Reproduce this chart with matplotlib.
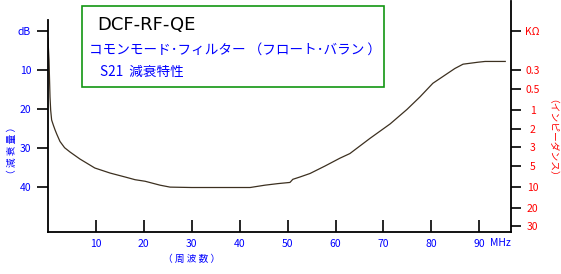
import matplotlib
matplotlib.use("Agg")
import matplotlib.pyplot as plt
from matplotlib.patches import Rectangle

plt.rcParams["font.family"] = ["Noto Sans CJK JP", "DejaVu Sans"]

# S21 attenuation curve (MHz, dB)
freq = [0.02, 0.25, 0.46, 0.6, 0.8, 1.15, 1.5, 1.86, 2.54, 3.5, 4.63, 6.7,
        9.8, 13.0, 16.1, 18.2, 20.3, 23.4, 25.5, 30, 35, 40, 42.2, 45.3, 48,
        50.5, 51.1, 52.6, 54.7, 57.8, 60.9, 63.0, 67.2, 71.4, 74.9, 77.6,
        80.3, 83.2, 84.9, 86.6, 89.7, 91.2, 95.4]
atten = [1.8, 7.4, 16.9, 20.3, 22.8, 24.1, 25.3, 26.4, 28.3, 29.9, 31.0, 32.8,
         35.1, 36.4, 37.4, 38.1, 38.5, 39.5, 40.0, 40.1, 40.1, 40.1, 40.1, 39.5,
         39.1, 38.8, 38.0, 37.4, 36.5, 34.6, 32.6, 31.4, 27.5, 23.8, 20.1, 16.9,
         13.4, 11.0, 9.6, 8.5, 8.0, 7.8, 7.8]

# axis ticks
x_ticks = [10, 20, 30, 40, 50, 60, 70, 80, 90]
db_ticks = [0, 10, 20, 30, 40]
db_labels = ["dB", "10", "20", "30", "40"]
imp_ticks = [0, 10, 14.9, 20.3, 25.1, 29.7, 34.6, 40, 45.4, 50]
imp_labels = ["KΩ", "0.3", "0.5", "1", "2", "3", "5", "10", "20", "30"]

W, H = 561, 274
BLUE = "#0000ff"
RED = "#ff0000"


def fx(x):
    return x / W


def fy(y):
    return 1 - y / H


fig = plt.figure(figsize=(W / 100, H / 100), dpi=100)
fig.patch.set_facecolor("white")

ax = fig.add_axes([fx(47.8), fy(232), fx(511) - fx(47.8), fy(20) - fy(232)])
ax.plot(freq, atten, color="#3c3020", linewidth=0.9)
ax.set_xlim(0, 96.6)
ax.set_ylim(51.5, -2.82)

ax.set_xticks(x_ticks)
ax.set_xticklabels([str(t) for t in x_ticks])
ax.set_yticks(db_ticks)
ax.set_yticklabels(db_labels)
ax.tick_params(axis="x", direction="in", length=9, width=1.2,
               labelcolor=BLUE, labelsize=7.5, pad=5)
ax.tick_params(axis="y", direction="out", length=8, width=1.2,
               labelcolor=BLUE, labelsize=7.5, pad=4)
ax.spines["top"].set_visible(False)
ax.spines["right"].set_visible(False)
ax.spines["left"].set_linewidth(1.3)
ax.spines["bottom"].set_linewidth(1.3)

ax2 = ax.twinx()
ax2.set_ylim(ax.get_ylim())
ax2.set_yticks(imp_ticks)
ax2.set_yticklabels(imp_labels)
ax2.tick_params(axis="y", direction="out", length=7, width=1.2,
                labelcolor=RED, labelsize=7.5, pad=8.6)
for lab in ax2.get_yticklabels():
    lab.set_horizontalalignment("center")
for s in ["top", "left", "bottom"]:
    ax2.spines[s].set_visible(False)
ax2.spines["right"].set_linewidth(1.3)
ax2.spines["right"].set_bounds(51.5, -7.7)

# axis captions
fig.text(fx(500), fy(243), "MHz", color=BLUE, fontsize=7.5, ha="center", va="center")
fig.text(fx(192), fy(259), "（ 周 波 数 ）", color=BLUE, fontsize=7,
         ha="center", va="center")
fig.text(fx(12), fy(150), "（ 減 衰 量 ）", color=BLUE, fontsize=7,
         ha="center", va="center", rotation=90)
fig.text(fx(547), fy(143), "（インピーダンス）", color=RED, fontsize=7,
         ha="center", va="center", rotation=-90)

# title box
fig.patches.append(Rectangle((fx(81.7), fy(87)), fx(384) - fx(81.7), fy(6) - fy(87),
                             transform=fig.transFigure, fill=False,
                             edgecolor="#129612", linewidth=1.2))
fig.text(fx(97), fy(24.5), "DCF-RF-QE", color="black", fontsize=13,
         ha="left", va="center", family=["DejaVu Sans"])
fig.text(fx(89), fy(50), "コモンモード･フィルター （フロート･バラン ）", color=BLUE,
         fontsize=9.8, ha="left", va="center")
fig.text(fx(100), fy(72), "S21  減衰特性", color=BLUE, fontsize=9.8,
         ha="left", va="center")

fig.savefig("out.png", dpi=100)
